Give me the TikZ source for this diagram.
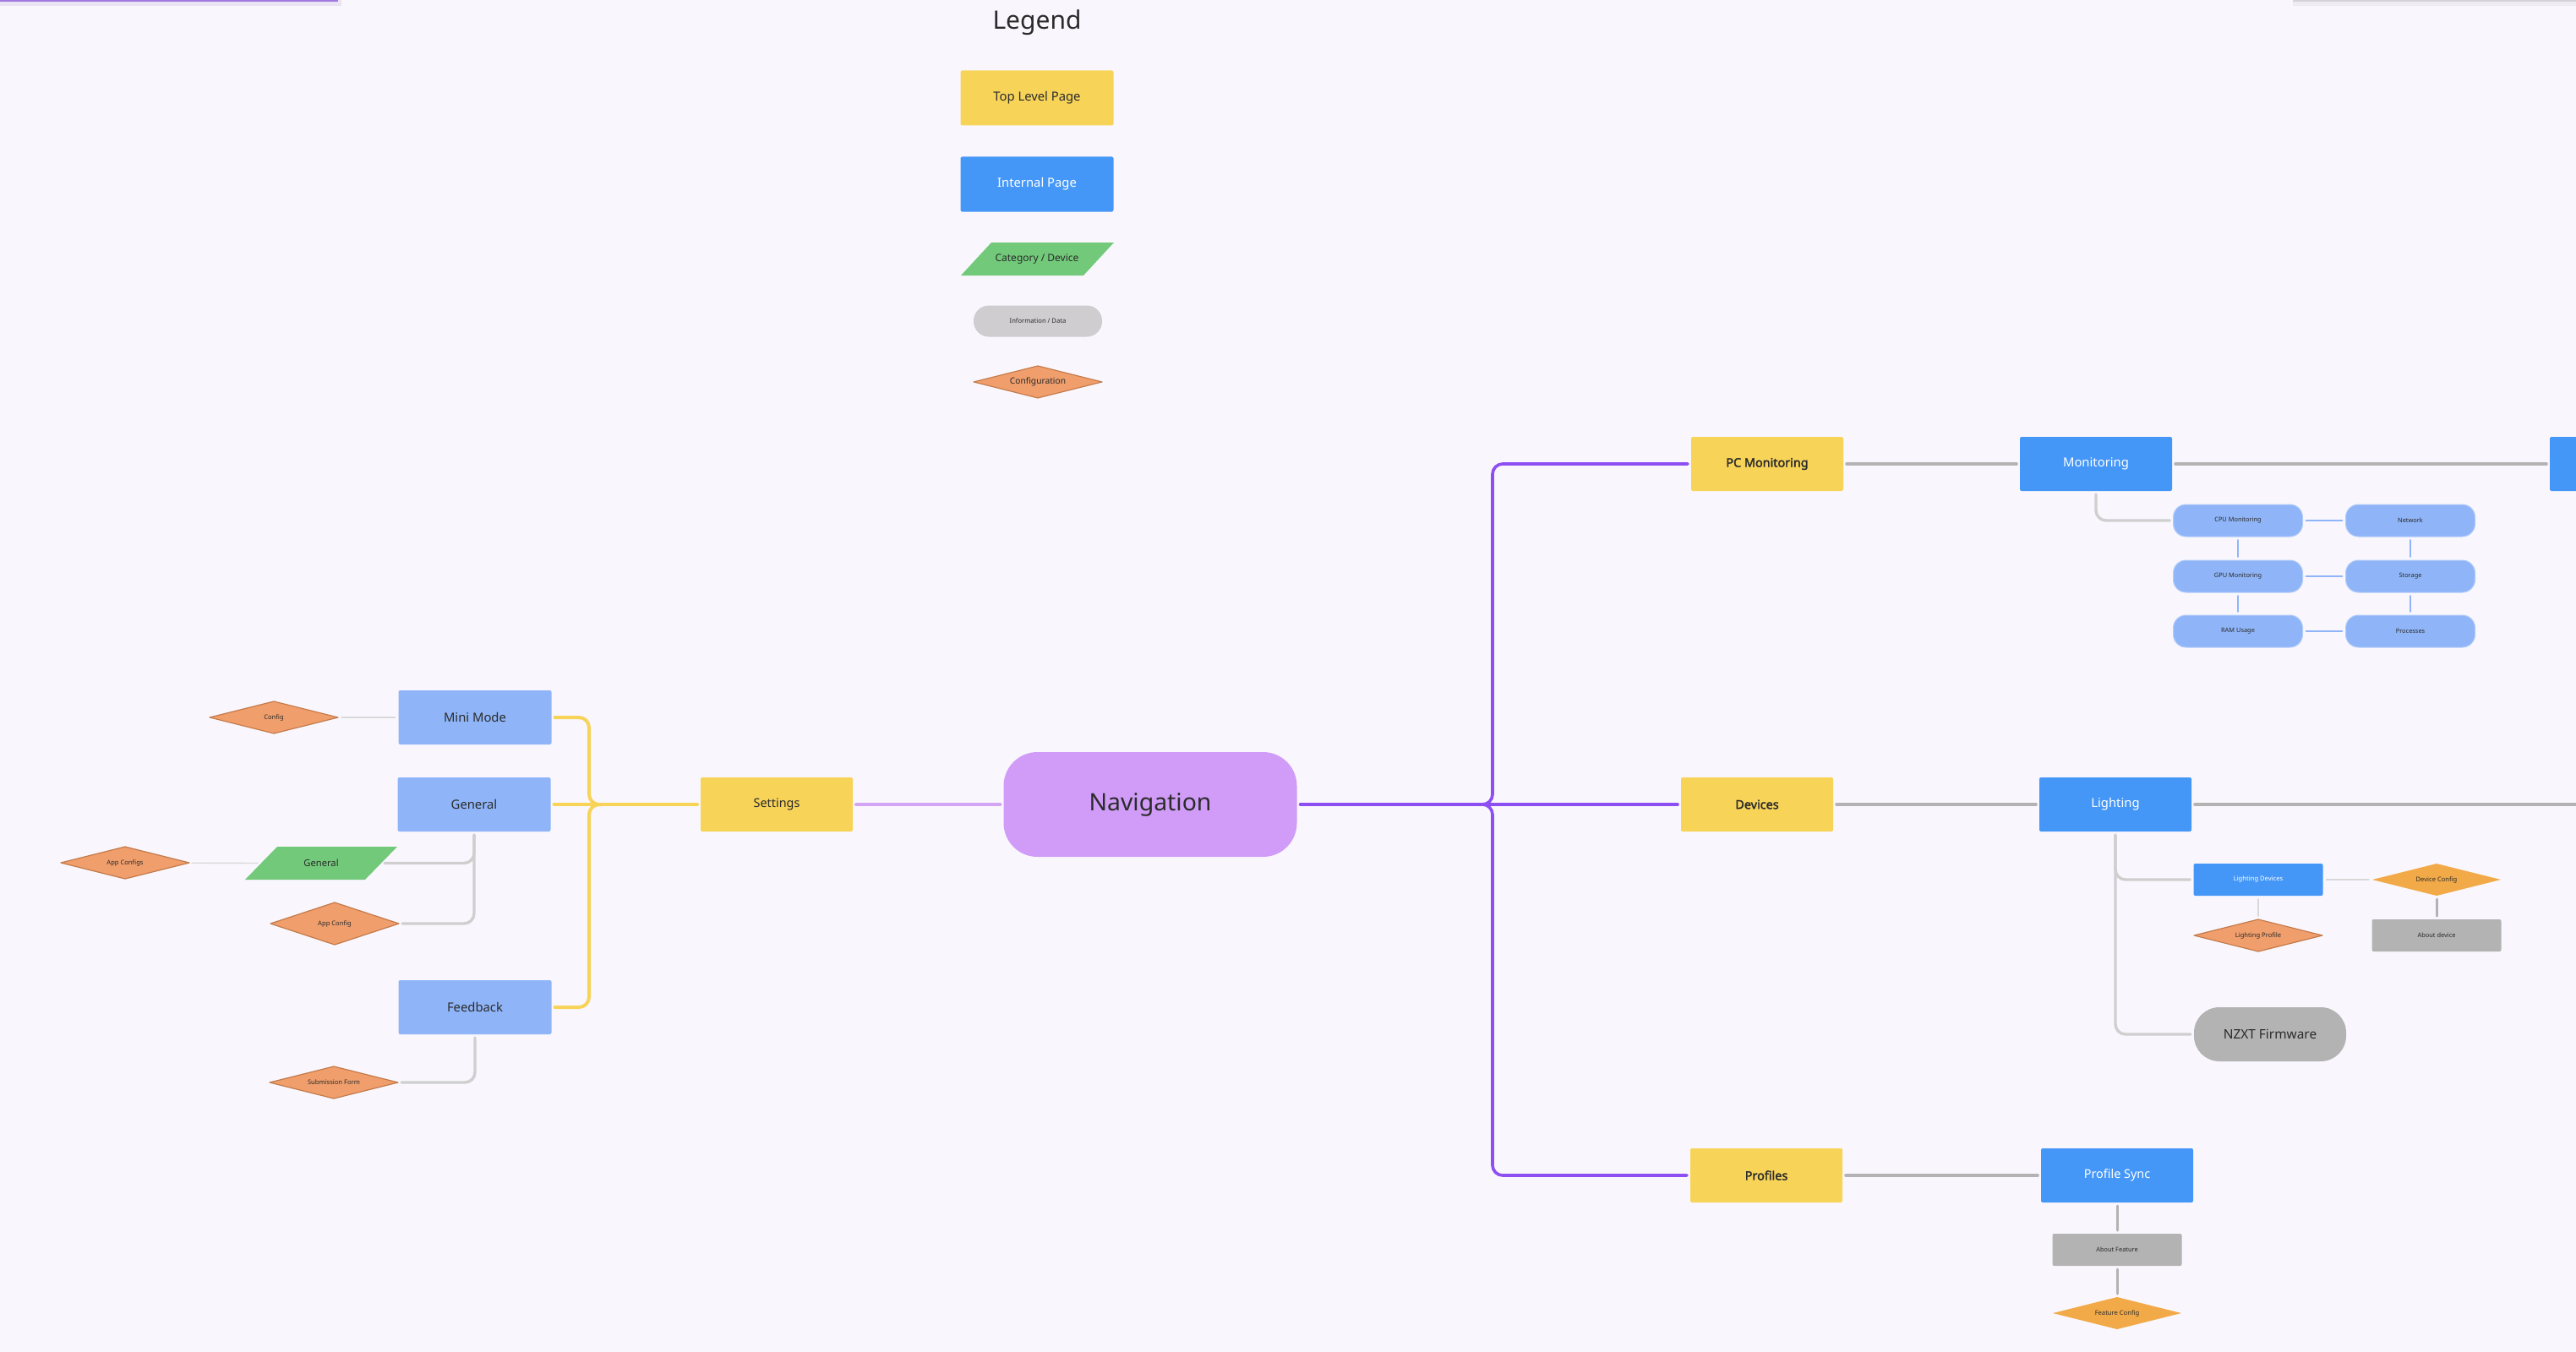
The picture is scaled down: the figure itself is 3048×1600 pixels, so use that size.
\documentclass[tikz,border=0pt]{standalone}
\usepackage{fontspec}
\setmainfont{Noto Sans}[AutoFakeBold=2.2]
\usetikzlibrary{shapes.geometric,calc}
\definecolor{bg}{HTML}{F9F7FD}
\definecolor{ink}{HTML}{2B2B2B}
\definecolor{cyel}{HTML}{F7D358}
\definecolor{cblue}{HTML}{4597F7}
\definecolor{clblue}{HTML}{8FB5F8}
\definecolor{cpillb}{HTML}{B3CDFA}
\definecolor{cgreen}{HTML}{72C97A}
\definecolor{cinfo}{HTML}{CFCDCF}
\definecolor{cgray}{HTML}{B3B3B3}
\definecolor{corange}{HTML}{F09E6C}
\definecolor{corangeb}{HTML}{C47A4A}
\definecolor{camber}{HTML}{F2AA48}
\definecolor{cnav}{HTML}{D19CF7}
\definecolor{cpurple}{HTML}{8D4FF2}
\definecolor{clpurple}{HTML}{D5A5F5}
\definecolor{clgray}{HTML}{CFCFCF}
\definecolor{cthin}{HTML}{D8D8D8}
\definecolor{cstrip}{HTML}{A07ADF}
\definecolor{cstripsh}{HTML}{E9E3F3}
\definecolor{cgstrip}{HTML}{D6D2DC}
\definecolor{cgstripsh}{HTML}{EEEBF2}
\newcommand\fsz[1]{\fontsize{#1}{#1}\selectfont}
\begin{document}
\begin{tikzpicture}[x=0.5pt,y=-0.5pt,line cap=round,line join=round,
  box/.style={rectangle,inner sep=0pt,outer sep=0pt,rounded corners=1pt,text=ink},
  toppage/.style={box,fill=cyel,minimum width=90pt,minimum height=32pt,font=\fsz{7.2}\bfseries},
  intpage/.style={box,fill=cblue,text=white,minimum width=90pt,minimum height=32pt,font=\fsz{7.4}},
  subpage/.style={box,fill=clblue,minimum width=90.5pt,minimum height=32pt,font=\fsz{7.4}},
  pillbox/.style={box,fill=clblue,draw=cpillb,line width=0.5pt,rounded corners=7.5pt,minimum width=76.5pt,minimum height=19pt,font=\fsz{3.7}},
  infobox/.style={box,fill=cgray,minimum width=76.5pt,minimum height=19pt,font=\fsz{3.7}},
  smallint/.style={box,fill=cblue,text=white,minimum width=76.5pt,minimum height=19pt,font=\fsz{3.8}},
  cfgdia/.style={diamond,aspect=4,inner sep=0pt,outer sep=0pt,fill=corange,draw=corangeb,line width=0.6pt,minimum width=76pt,minimum height=19pt,font=\fsz{3.8},text=ink},
  amberdia/.style={cfgdia,fill=camber,draw=none},
  paratext/.style={rectangle,inner sep=0pt,outer sep=0pt,minimum width=90pt,minimum height=19.5pt,text=ink},
  pline/.style={draw=cpurple,line width=1.8pt,rounded corners=6pt,shorten >=2pt,shorten <=2pt},
  lpline/.style={draw=clpurple,line width=2pt,shorten >=2pt,shorten <=2pt},
  yline/.style={draw=cyel,line width=2pt,rounded corners=6pt,shorten >=2pt,shorten <=2pt},
  gline/.style={draw=cgray,line width=1.8pt,shorten >=2pt,shorten <=2pt},
  lgline/.style={draw=clgray,line width=1.7pt,rounded corners=6pt,shorten >=2pt,shorten <=2pt},
  thinline/.style={draw=cthin,line width=0.7pt,shorten >=2pt,shorten <=2pt},
  bline/.style={draw=clblue,line width=0.8pt,shorten >=2pt,shorten <=2pt}]
\useasboundingbox (0,0) rectangle (3048,1600);
\clip (0,0) rectangle (3048,1600);
\fill[bg] (0,0) rectangle (3048,1600);
% cut-off elements at the top edge
\fill[cstripsh] (0,0) rectangle (404,7);
\fill[cstrip] (0,0) rectangle (400,2.5);
\fill[cgstripsh] (2713,0) rectangle (3048,7);
\fill[cgstrip] (2713,0) rectangle (3048,2.5);

% ---------- Legend ----------
\node[text=ink,font=\fsz{15}] (legend) at (1227,27) {Legend};
\node[toppage,font=\fsz{7.4},minimum width=90.5pt,minimum height=32.5pt] (lgtop) at (1227,116) {Top Level Page};
\node[intpage,minimum width=90.5pt,minimum height=32.5pt] (lgint) at (1227,218) {Internal Page};
\fill[cgreen] (1173,287) -- (1318,287) -- (1282,326) -- (1137,326) -- cycle;
\node[paratext,font=\fsz{6}] (lgcat) at (1227,307) {Category / Device};
\node[box,fill=cinfo,rounded corners=9pt,minimum width=76pt,minimum height=18.5pt,font=\fsz{3.8}] (lginfo) at (1228,380) {Information / Data};
\node[cfgdia,font=\fsz{5.1}] (lgconf) at (1228,452) {Configuration};

% ---------- Centre ----------
\node[box,fill=cnav,rounded corners=20pt,minimum width=173.5pt,minimum height=62pt,font=\fsz{14.2}] (nav) at (1361,952) {Navigation};
\node[toppage,font=\fsz{7.2}] (set) at (919,952) {Settings};
\draw[lpline] (set) -- (nav);

% ---------- Settings subtree ----------
\node[subpage] (mini) at (562,849) {Mini Mode};
\node[subpage] (genb) at (561,952) {General};
\node[subpage] (fb) at (562,1192) {Feedback};
\node[cfgdia] (cfga) at (324,849) {Config};
\fill[cgreen] (328,1002) -- (470,1002) -- (432,1041) -- (290,1041) -- cycle;
\node[paratext,font=\fsz{5.6}] (geng) at (380,1021.5) {General};
\node[cfgdia] (appcs) at (148,1021) {App Configs};
\node[cfgdia,minimum height=25pt] (appc) at (396,1093) {App Config};
\node[cfgdia] (subf) at (395,1281) {Submission Form};

\coordinate (yhub) at (711,952);
\coordinate (yv) at (697,0);
\draw[yline] (genb) -- (set);
\draw[yline,shorten <=0pt] (yhub) -| (yv |- mini.east) -- (mini.east);
\draw[yline,shorten <=0pt] (yhub) -| (yv |- fb.east) -- (fb.east);
\draw[thinline] (cfga) -- (mini);
\draw[lgline] (genb.south) |- ([xshift=-9.5pt]geng.east);
\draw[lgline] (genb.south) |- (appc.east);
\draw[thinline] (appcs) -- ([xshift=9.5pt]geng.west);
\draw[lgline] (fb.south) |- (subf.east);

% ---------- Right side ----------
\node[toppage] (pc) at (2091,549) {PC Monitoring};
\node[toppage] (dev) at (2079,952) {Devices};
\node[toppage] (prof) at (2090,1391) {Profiles};
\coordinate (phub) at (1752,952);
\coordinate (pv) at (1766,0);
\draw[pline] (nav) -- (dev);
\draw[pline,shorten <=0pt] (phub) -| (pv |- pc.west) -- (pc.west);
\draw[pline,shorten <=0pt] (phub) -| (pv |- prof.west) -- (prof.west);

% PC Monitoring branch
\node[intpage] (mon) at (2480,549) {Monitoring};
\node[box,fill=cblue,minimum width=90pt,minimum height=32pt] (edgebox) at (3107,549) {};
\draw[gline] (pc) -- (mon);
\draw[gline] (mon) -- (edgebox);
\node[pillbox] (cpu) at (2648,616) {CPU Monitoring};
\node[pillbox] (net) at (2852,616) {Network};
\node[pillbox] (gpu) at (2648,682) {GPU Monitoring};
\node[pillbox] (sto) at (2852,682) {Storage};
\node[pillbox] (ram) at (2648,747) {RAM Usage};
\node[pillbox] (proc) at (2852,747) {Processes};
\draw[lgline] (mon.south) |- (cpu.west);
\draw[bline] (cpu) -- (net);
\draw[bline] (gpu) -- (sto);
\draw[bline] (ram) -- (proc);
\draw[bline] (cpu) -- (gpu);
\draw[bline] (gpu) -- (ram);
\draw[bline] (net) -- (sto);
\draw[bline] (sto) -- (proc);

% Devices branch
\node[intpage] (light) at (2503,952) {Lighting};
\coordinate (lightr) at (3070,952);
\draw[gline] (dev) -- (light);
\draw[gline,shorten >=0pt] (light) -- (lightr);
\node[smallint] (ld) at (2672,1041) {Lighting Devices};
\node[cfgdia] (lp) at (2672,1107) {Lighting Profile};
\node[amberdia] (dc) at (2883,1041) {Device Config};
\node[infobox] (ad) at (2883,1107) {About device};
\node[box,fill=cgray,rounded corners=15pt,minimum width=90pt,minimum height=32pt,font=\fsz{7.7}] (nzxt) at (2686,1224) {NZXT Firmware};
\draw[lgline] (light.south) |- (ld.west);
\draw[lgline] (light.south) |- (nzxt.west);
\draw[thinline] (ld) -- (lp);
\draw[thinline] (ld) -- (dc);
\draw[gline,line width=1.5pt] (dc) -- (ad);

% Profiles branch
\node[intpage,font=\fsz{7.2}] (ps) at (2505,1391) {Profile Sync};
\node[infobox] (af) at (2505,1479) {About Feature};
\node[amberdia] (fc) at (2505,1554) {Feature Config};
\draw[gline] (prof) -- (ps);
\draw[gline,line width=1.5pt] (ps) -- (af);
\draw[gline,line width=1.5pt] (af) -- (fc);
\end{tikzpicture}
\end{document}
